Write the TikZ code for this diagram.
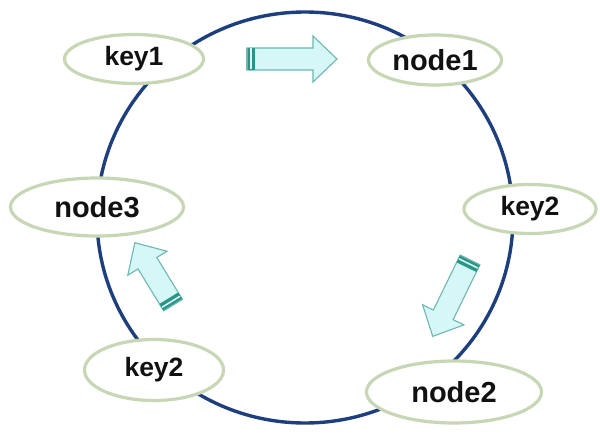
\documentclass[tikz,border=0pt]{standalone}
\usepackage{fontspec}
\setmainfont{Liberation Sans}
\usetikzlibrary{shapes.geometric}
\definecolor{ringblue}{HTML}{1E3F7E}
\definecolor{ovalgreen}{HTML}{C7D7B6}
\definecolor{arrowline}{HTML}{6DB7B0}
\definecolor{arrowfill}{HTML}{D6F7F7}
\definecolor{tailteal}{HTML}{2A9585}
\definecolor{txt}{HTML}{111111}
\tikzset{
  oval/.style={ellipse, draw=ovalgreen, line width=3.2pt, fill=white, inner sep=0pt,
    text=txt, font=\bfseries},
  keyoval/.style={oval, font=\bfseries\fontsize{26.5}{26.5}\selectfont},
  nodeoval/.style={oval, font=\bfseries\fontsize{29}{29}\selectfont},
  ring/.style={draw=ringblue, line width=3.4pt},
  blockarrow/.style={draw=arrowline, line width=1.1pt, fill=arrowfill, line join=miter},
}
\newcommand{\blockarr}[3]{% tail point, angle, length
  \begin{scope}[shift={#1}, rotate=#2]
    \path[blockarrow] (0,-11) -- ({#3-24},-11) -- ({#3-24},-23) -- (#3,0)
      -- ({#3-24},23) -- ({#3-24},11) -- (0,11) -- cycle;
    \fill[tailteal] (0,-11) rectangle (8,11);
    \fill[arrowfill] (3,-10.5) rectangle (4.6,10.5);
    \draw[arrowline, line width=1.1pt] (0,-11) -- (0,11);
  \end{scope}}
\begin{document}
\begin{tikzpicture}[x=1pt, y=-1pt]
  \useasboundingbox (0,0) rectangle (600,436);
  \fill[white] (0,0) rectangle (600,436);
  \draw[ring] (305,217.5) ellipse [x radius=208, y radius=205.5];

  \node[keyoval, minimum width=139pt, minimum height=49pt] (key1) at (134,59) {key1};
  \node[nodeoval, minimum width=133pt, minimum height=50pt] (node1) at (435,60) {node1};
  \node[keyoval, minimum width=132pt, minimum height=49pt] (key2r) at (530,209) {key2};
  \node[nodeoval, minimum width=173pt, minimum height=58pt] (node3) at (97,207) {node3};
  \node[keyoval, minimum width=139pt, minimum height=61pt] (key2l) at (154,370) {key2};
  \node[nodeoval, minimum width=175pt, minimum height=62pt] (node2) at (454,392) {node2};

  \blockarr{(247,59)}{0}{90}
  \blockarr{(470,260)}{244}{85}
  \blockarr{(173,305)}{121.5}{73}
\end{tikzpicture}
\end{document}
